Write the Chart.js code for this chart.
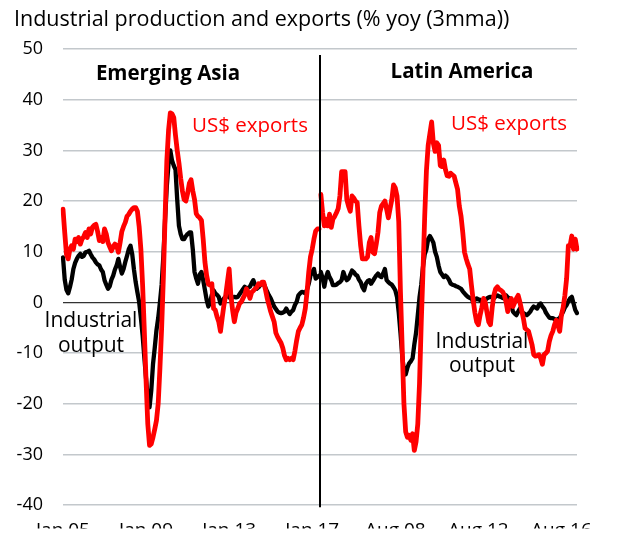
<!DOCTYPE html>
<html>
<head>
<meta charset="utf-8">
<script src="https://cdn.jsdelivr.net/npm/chart.js@4"></script>
<style>
  html, body { margin: 0; padding: 0; background: #fff; }
  #wrap { width: 637px; height: 536px; }
</style>
</head>
<body>
<div id="wrap"><canvas id="canvasChart" width="637" height="536"></canvas></div>
<script>
// monthly, Jan 05 onwards, one list per panel
var monthNames = ["Jan","Feb","Mar","Apr","May","Jun","Jul","Aug","Sep","Oct","Nov","Dec"];
var startYear = 2005;
var panelLength = 149;
var tickEvery = 48; // shows Jan 05, Jan 09, Jan 13, Jan 17, Aug 08, Aug 12, Aug 16

var asiaExports = [
  18.4, 13.8, 9.5, 8.6, 10.5, 11.2, 10.5, 12.5, 12.0, 12.8,
  11.5, 12.5, 13.0, 13.8, 12.8, 14.5, 13.5, 14.8, 15.2, 15.4,
  14.0, 12.2, 12.8, 12.0, 14.5, 13.5, 11.8, 11.0, 10.2, 11.0,
  11.5, 11.2, 9.9, 11.8, 14.0, 15.0, 15.8, 17.0, 17.4, 18.0,
  18.4, 18.7, 18.7, 18.0, 15.0, 10.5, 3.4, -5.7, -15.5, -24.0,
  -28.2, -27.9, -26.6, -25.0, -23.3, -20.0, -13.0, -5.0, 5.0, 17.0,
  28.0, 34.0, 37.4, 37.2, 36.5, 33.0, 30.0, 27.5, 24.5, 22.0,
  20.3, 20.0, 21.5, 23.5, 24.2, 22.0, 20.3, 17.5, 17.0, 16.7,
  16.2, 12.5, 8.0, 5.3, 3.6, 3.4, 3.7, -1.2, -1.5, -2.8,
  -3.8, -5.7, -3.0, -0.5, 1.4, 4.0, 6.6, 1.4, -1.5, -3.8,
  -2.0, -1.2, -0.2, 0.1, 0.8, 1.5, 2.7, 2.0, 0.8, 2.0,
  2.3, 2.7, 3.0, 3.7, 3.5, 4.0, 4.0, 2.5, 0.8, -0.5,
  -1.8, -2.8, -3.8, -6.0, -6.8, -7.4, -8.0, -9.0, -10.5, -11.3,
  -11.0, -11.3, -11.0, -11.3, -9.6, -7.5, -5.7, -5.0, -4.4, -3.0,
  -1.2, 2.0, 6.0, 9.0, 10.5, 12.5, 14.1, 14.5, 14.5
];

var asiaOutput = [
  8.9, 4.5, 2.5, 1.8, 3.0, 4.5, 6.6, 7.8, 8.6, 9.2,
  9.6, 9.0, 9.2, 9.9, 10.0, 10.2, 9.5, 8.9, 8.5, 7.9,
  7.5, 7.3, 6.5, 6.0, 4.4, 3.5, 2.7, 3.2, 4.5, 5.3,
  6.5, 7.3, 8.6, 7.0, 5.7, 6.6, 8.0, 9.2, 10.5, 11.2,
  9.5, 6.5, 4.0, 2.0, 0.1, -3.0, -6.5, -10.9, -15.0, -19.0,
  -20.7, -17.4, -12.2, -9.0, -5.5, -3.1, 0.0, 3.5, 9.2, 16.5,
  23.0, 27.5, 30.0, 28.0, 27.0, 26.2, 20.3, 15.1, 13.5, 12.5,
  12.5, 13.1, 13.5, 13.8, 13.8, 10.5, 6.0, 4.7, 3.7, 5.5,
  6.0, 4.4, 2.5, 0.5, -0.8, 0.0, 1.5, 2.4, 1.8, 1.5,
  1.1, -0.2, 0.3, 0.8, 1.2, 1.4, 1.0, 0.8, 1.0, 1.1,
  1.0, 1.1, 1.6, 2.1, 2.6, 3.1, 2.7, 2.9, 3.1, 3.8,
  4.4, 3.5, 2.7, 3.0, 3.4, 3.6, 3.7, 2.9, 2.1, 1.4,
  0.8, 0.0, -0.8, -1.3, -1.8, -2.0, -2.1, -2.0, -1.8, -1.2,
  -1.8, -2.3, -1.8, -1.5, -0.5, 0.1, 1.4, 1.8, 2.1, 2.0,
  1.8, 2.5, 3.7, 5.3, 6.0, 6.6, 4.7, 5.0, 5.3
];

var latamExports = [
  21.3, 17.7, 15.1, 16.4, 15.1, 17.4, 14.8, 16.5, 17.0, 17.7,
  18.5, 21.0, 25.8, 25.8, 25.8, 20.3, 19.0, 18.0, 21.0, 20.6,
  20.0, 19.7, 15.1, 11.2, 8.6, 8.6, 8.6, 9.0, 11.8, 12.8,
  9.9, 9.6, 11.5, 13.8, 17.7, 19.0, 19.5, 20.0, 18.4, 16.7,
  18.5, 20.3, 23.2, 22.6, 21.0, 16.0, 2.0, -9.0, -20.0, -25.5,
  -26.6, -26.2, -27.2, -25.9, -29.2, -27.5, -24.0, -16.0, -4.0, 6.0,
  17.0, 26.0, 31.0, 33.3, 35.6, 31.4, 29.8, 31.5, 31.0, 27.0,
  26.8, 28.1, 26.2, 25.0, 24.9, 25.5, 25.2, 24.9, 23.6, 22.3,
  19.0, 17.0, 13.8, 9.9, 8.6, 7.5, 6.6, 3.4, 0.5, -2.0,
  -3.8, -4.4, -2.5, -1.0, 0.8, 0.0, -2.0, -3.8, -4.4, -1.0,
  1.5, 2.7, 3.1, 2.6, 2.4, 2.1, 1.5, 0.1, -1.8, 0.0,
  0.8, -0.8, 0.0, 0.8, 1.4, 0.1, -1.5, -3.1, -5.1, -5.4,
  -5.7, -7.0, -8.3, -10.3, -10.6, -10.5, -10.3, -11.0, -12.2, -10.3,
  -10.0, -9.6, -7.7, -6.5, -5.7, -4.4, -3.5, -4.5, -5.7, -2.5,
  -1.0, 1.4, 4.7, 11.2, 11.2, 13.1, 10.5, 12.5, 10.5
];

var latamOutput = [
  6.0, 4.8, 3.1, 5.0, 6.0, 5.0, 4.4, 3.4, 3.4, 3.5,
  3.8, 4.0, 4.4, 6.0, 5.0, 4.4, 4.7, 5.5, 6.3, 6.0,
  5.5, 5.3, 4.5, 4.0, 3.0, 2.4, 3.7, 4.2, 4.4, 3.7,
  4.2, 4.8, 5.3, 5.7, 5.2, 5.0, 5.7, 6.6, 4.4, 4.0,
  3.7, 3.5, 3.0, 2.4, 1.1, -2.0, -6.0, -10.5, -13.5, -14.2,
  -12.9, -12.0, -11.6, -11.0, -8.3, -6.0, -2.5, 1.0, 3.5, 7.0,
  9.5, 10.5, 12.5, 13.1, 12.5, 11.8, 10.0, 9.0, 7.3, 6.0,
  5.5, 5.0, 5.3, 5.0, 4.5, 3.7, 3.5, 3.4, 3.2, 3.1,
  2.9, 2.7, 2.2, 1.8, 1.4, 1.1, 0.9, 0.8, 0.1, 0.5,
  0.8, 0.6, 0.5, 0.1, -0.2, 0.5, 0.8, 1.0, 1.1, 1.0,
  0.8, 1.2, 1.4, 1.2, 1.1, 0.9, 0.8, 1.4, 1.0, 0.8,
  -0.5, -1.8, -2.2, -2.5, -1.8, -1.2, -1.8, -2.1, -2.3, -2.5,
  -2.2, -1.8, -1.2, -0.8, -1.0, -1.2, -0.5, -0.2, -0.8, -1.2,
  -2.0, -2.5, -3.0, -3.1, -3.1, -3.3, -3.5, -3.3, -3.1, -2.5,
  -1.8, -1.0, -0.5, 0.2, 0.8, 1.1, -0.2, -1.5, -2.1
];

var panelTitles = ["Emerging Asia", "Latin America"];
var yMin = -40, yMax = 50, yStep = 10;

function monthLabels(n) {
  var out = [];
  for (var i = 0; i < n; i++) {
    var y = startYear + Math.floor(i / 12);
    out.push(monthNames[i % 12] + " " + String(y).slice(2));
  }
  return out;
}

function blanks(n) {
  var out = [];
  for (var i = 0; i < n; i++) out.push(null);
  return out;
}

var panelLabels = monthLabels(panelLength);
var labels = panelLabels.concat(panelLabels);

var FONT = "'Open Sans', 'Noto Sans', sans-serif";

// text + panel divider drawn on top
var annotations = {
  id: "annotations",
  afterDatasetsDraw: function(chart) {
    var ctx = chart.ctx;
    var x = chart.scales.x;
    var y = chart.scales.y;
    var divX = Math.round((x.getPixelForValue(panelLength - 1) + x.getPixelForValue(panelLength)) / 2);

    ctx.save();
    ctx.strokeStyle = "#000";
    ctx.lineWidth = 2;
    ctx.beginPath();
    ctx.moveTo(divX, 55);
    ctx.lineTo(divX, y.getPixelForValue(yMin) + 2);
    ctx.stroke();

    ctx.textBaseline = "alphabetic";
    ctx.fillStyle = "#000";
    ctx.textAlign = "left";
    ctx.font = "21.5px " + FONT;
    ctx.fillText("Industrial production and exports (% yoy (3mma))", 14, 26);

    ctx.textAlign = "center";
    ctx.font = "bold 20.5px " + FONT;
    ctx.fillText(panelTitles[0], 168, 80);
    ctx.fillText(panelTitles[1], 462, 78);

    ctx.font = "20.5px " + FONT;
    ctx.fillStyle = "#ff0000";
    ctx.fillText("US$ exports", 250, 132);
    ctx.fillText("US$ exports", 509, 130);

    ctx.fillStyle = "#000";
    ctx.font = "21px " + FONT;
    ctx.fillText("Industrial", 91, 327);
    ctx.fillText("output", 91, 352);
    ctx.fillText("Industrial", 482, 348);
    ctx.fillText("output", 482, 372);
    ctx.restore();
  }
};

var chart = new Chart(document.getElementById("canvasChart"), {
  type: "line",
  data: {
    labels: labels,
    datasets: [
      { label: "Emerging Asia US$ exports", data: asiaExports.concat(blanks(panelLength)), borderColor: "#ff0000", borderWidth: 4.8 },
      { label: "Latin America US$ exports", data: blanks(panelLength).concat(latamExports), borderColor: "#ff0000", borderWidth: 4.8 },
      { label: "Emerging Asia industrial output", data: asiaOutput.concat(blanks(panelLength)), borderColor: "#000000", borderWidth: 4.3 },
      { label: "Latin America industrial output", data: blanks(panelLength).concat(latamOutput), borderColor: "#000000", borderWidth: 4.3 }
    ]
  },
  options: {
    responsive: false,
    animation: false,
    devicePixelRatio: 1,
    layout: { padding: { left: 0, right: 60, top: 49, bottom: 0 } },
    elements: {
      point: { radius: 0 },
      line: { tension: 0, fill: false, borderJoinStyle: "round", borderCapStyle: "round" }
    },
    plugins: {
      legend: { display: false },
      tooltip: { enabled: false }
    },
    scales: {
      x: {
        type: "category",
        offset: false,
        grid: { display: false, drawTicks: false },
        border: { display: false },
        ticks: {
          autoSkip: false,
          maxRotation: 0,
          padding: 14,
          color: "#000",
          font: { family: FONT, size: 19 },
          callback: function(value, index) {
            return index % tickEvery === 0 ? this.getLabelForValue(value) : "";
          }
        },
        afterFit: function(scale) { scale.height = 23.2; }
      },
      y: {
        min: yMin,
        max: yMax,
        grid: {
          drawTicks: false,
          color: function(c) { return c.tick.value === 0 ? "#333" : "#c3c8cc"; },
          lineWidth: function(c) { return c.tick.value === 0 ? 1.2 : 1.5; }
        },
        border: { display: false },
        ticks: {
          stepSize: yStep,
          padding: 20,
          color: "#000",
          font: { family: FONT, size: 18 }
        },
        afterFit: function(scale) { scale.width = 63; }
      }
    }
  },
  plugins: [annotations]
});
</script>
</body>
</html>
